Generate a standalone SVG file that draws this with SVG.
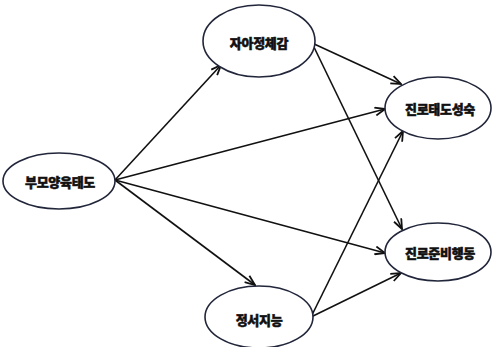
<svg xmlns="http://www.w3.org/2000/svg" width="492" height="347" viewBox="0 0 492 347">
<style>
.node ellipse{fill:#fff;stroke:#22263a;stroke-width:1.6}
.node text{font-family:"Noto Sans CJK KR","Noto Sans",sans-serif;font-weight:900;font-size:13px;fill:#111;stroke:#111;stroke-width:0.5;text-anchor:middle;dominant-baseline:central;letter-spacing:-0.3px}
.edges line{stroke:#111;stroke-width:1.6;fill:none;marker-end:url(#arr)}
</style>
<defs>
<marker id="arr" viewBox="0 0 12 10" refX="11" refY="5" markerWidth="12" markerHeight="10" markerUnits="userSpaceOnUse" orient="auto">
<path d="M1,1 L11,5 L1,9" fill="none" stroke="#111" stroke-width="1.8"/>
</marker>
</defs>
<rect width="492" height="347" fill="#fff"/>
<g class="edges">
<line x1="115" y1="180" x2="221" y2="65"/>
<line x1="115" y1="180" x2="385" y2="109"/>
<line x1="115" y1="180" x2="385" y2="253"/>
<line x1="115" y1="180" x2="255" y2="285"/>
<line x1="312" y1="43" x2="401" y2="84"/>
<line x1="312" y1="43" x2="402" y2="229"/>
<line x1="311" y1="317" x2="403" y2="131"/>
<line x1="311" y1="317" x2="401" y2="273"/>
</g>
<g id="parent" class="node"><ellipse cx="59" cy="181" rx="56" ry="28"/><text x="60" y="181">부모양육태도</text></g>
<g id="identity" class="node"><ellipse cx="259" cy="41" rx="56" ry="36"/><text x="259" y="42">자아정체감</text></g>
<g id="maturity" class="node"><ellipse cx="438" cy="108" rx="53" ry="31"/><text x="440" y="108">진로태도성숙</text></g>
<g id="prep" class="node"><ellipse cx="438" cy="252" rx="53" ry="29"/><text x="440" y="252">진로준비행동</text></g>
<g id="emotion" class="node"><ellipse cx="259" cy="317" rx="54" ry="31"/><text x="259" y="319">정서지능</text></g>
</svg>
